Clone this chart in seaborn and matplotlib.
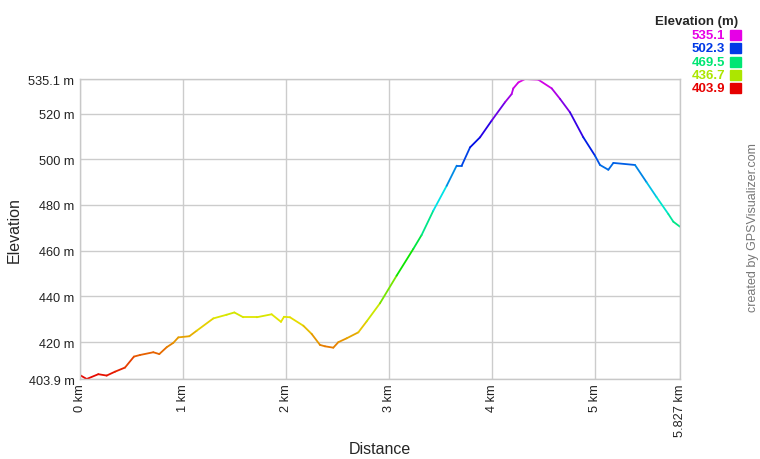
import numpy as np
import pandas as pd
import matplotlib
matplotlib.use("Agg")
import matplotlib.pyplot as plt
import matplotlib.colors as mcolors
import seaborn as sns

# track profile
distance_km = [0.0, 0.065, 0.178, 0.259, 0.34, 0.437, 0.524, 0.583, 0.712, 0.77,
               0.842, 0.906, 0.955, 1.062, 1.133, 1.295, 1.424, 1.499, 1.586, 1.716,
               1.861, 1.952, 1.981, 2.039, 2.169, 2.25, 2.331, 2.379, 2.46, 2.509,
               2.59, 2.703, 2.784, 2.913, 3.075, 3.237, 3.318, 3.431, 3.561, 3.658,
               3.707, 3.788, 3.885, 3.998, 4.127, 4.192, 4.208, 4.257, 4.322, 4.451,
               4.581, 4.662, 4.759, 4.888, 5.001, 5.05, 5.131, 5.18, 5.39, 5.503,
               5.6, 5.713, 5.762, 5.827]
elevation_m = [405.6, 403.9, 406.0, 405.4, 407.1, 408.9, 413.7, 414.4, 415.6, 414.8,
               417.8, 419.7, 422.1, 422.6, 425.0, 430.4, 432.0, 433.0, 430.9, 430.9,
               432.2, 428.9, 431.1, 430.9, 427.2, 423.6, 418.8, 418.2, 417.6, 420.0,
               421.7, 424.3, 429.1, 437.0, 449.1, 460.8, 466.9, 477.5, 488.4, 497.2,
               497.2, 505.2, 509.6, 516.9, 524.9, 528.5, 531.0, 533.6, 535.1, 534.8,
               531.0, 526.4, 520.5, 509.6, 501.6, 497.5, 495.4, 498.4, 497.5, 489.9,
               483.4, 476.1, 472.7, 470.5]

y_ticks = [403.9, 420, 440, 460, 480, 500, 520, 535.1]
x_ticks = [0, 1, 2, 3, 4, 5, 5.827]
legend_values = [535.1, 502.3, 469.5, 436.7, 403.9]

e_min, e_max = 403.9, 535.1


def elev_color(v):
    # GPSVisualizer style rainbow: red -> magenta over the elevation range
    h = 300.0 / 360.0 * (v - e_min) / (e_max - e_min)
    return mcolors.hsv_to_rgb((h, 1.0, 0.9))


# one two-point piece per segment so each can take its own colour
rows = []
for i in range(len(distance_km) - 1):
    for j in (i, i + 1):
        rows.append({"seg": i, "d": distance_km[j], "e": elevation_m[j]})
df = pd.DataFrame(rows)
seg_colors = {i: elev_color((elevation_m[i] + elevation_m[i + 1]) / 2)
              for i in range(len(distance_km) - 1)}

sns.set_theme(style="white")
plt.rcParams["font.family"] = ["Liberation Sans", "DejaVu Sans"]

fig = plt.figure(figsize=(7.6, 4.6), dpi=100)
ax = fig.add_axes([80 / 760, 80 / 460, 600 / 760, 300 / 460])

sns.lineplot(data=df, x="d", y="e", hue="seg", palette=seg_colors, units="seg",
             estimator=None, sort=False, legend=False, linewidth=1.3, ax=ax)

ax.set_xlim(0, 5.827)
ax.set_ylim(e_min, e_max)
ax.set_xticks(x_ticks)
ax.set_xticklabels([f"{t:g} km" for t in x_ticks], rotation=90, fontsize=9.2)
ax.set_yticks(y_ticks)
ax.set_yticklabels([f"{t:g} m" for t in y_ticks], fontsize=9.2)
ax.tick_params(axis="y", length=0, pad=4, colors="#222222")
ax.tick_params(axis="x", length=0, pad=3, colors="#222222")
ax.grid(True, color="#cccccc", linewidth=1)
for s in ax.spines.values():
    s.set_color("#c8c8c8")
    s.set_linewidth(1)
ax.set_xlabel("Distance", fontsize=11.5, va="center")
ax.set_ylabel("Elevation", fontsize=11.5, va="center")
ax.xaxis.set_label_coords(0.5, -70 / 300)
ax.yaxis.set_label_coords(-65.5 / 600, 0.5)

# colour key in the top right corner
fig.text(738 / 760, 1 - 21.5 / 460, "Elevation (m)", ha="right", va="center",
         fontsize=9.5, fontweight="bold")
for k, v in enumerate(legend_values):
    yc = 1 - (36 + 13.3 * k) / 460
    fig.text(725 / 760, yc, f"{v:.1f}", ha="right", va="center",
             fontsize=9.5, fontweight="bold", color=elev_color(v))
    fig.patches.append(plt.Rectangle((730 / 760, yc - 5 / 460), 11 / 760, 10 / 460,
                                     transform=fig.transFigure, color=elev_color(v)))

fig.text(753 / 760, 1 - 228 / 460, "created by GPSVisualizer.com", rotation=90,
         ha="center", va="center", fontsize=9, color="#777777")

fig.savefig("out.png", dpi=100)
